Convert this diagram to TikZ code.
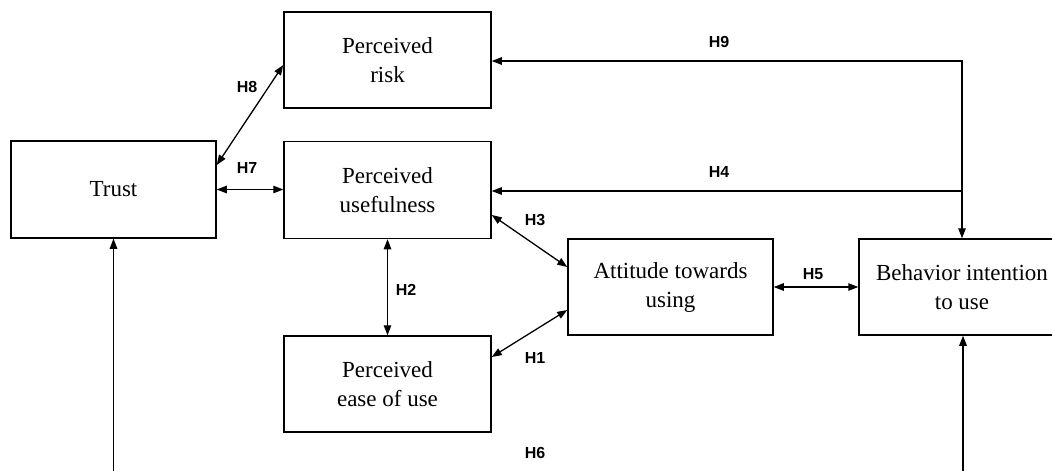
\documentclass[tikz,border=0pt]{standalone}
\usepackage{fontspec}
\setmainfont{Liberation Serif}
\newfontfamily\lblfont{Liberation Sans}
\usetikzlibrary{arrows.meta,calc}
\tikzset{
  box/.style={draw, line width=1.5pt, inner sep=0pt, align=center,
    font=\fontsize{23}{29}\selectfont},
  conn/.style={line width=1.3pt, arrows={Triangle[length=10pt,width=7.5pt]-Triangle[length=10pt,width=7.5pt]}},
  oneway/.style={line width=1.3pt, -{Triangle[length=10pt,width=7.5pt]}},
  hlbl/.style={font=\lblfont\bfseries\fontsize{16}{18}\selectfont, inner sep=0pt}
}
\begin{document}
\begin{tikzpicture}[x=1pt,y=-1pt]
\useasboundingbox (0,0) rectangle (1052,471);
\clip (0,0) rectangle (1052,471);
\fill[white] (0,0) rectangle (1052,471);
% boxes
\node[box, minimum width=205pt, minimum height=97pt] (trust) at (113.5,189.5) {Trust};
\node[box, minimum width=207pt, minimum height=96pt] (risk) at (387.5,60) {Perceived\\risk};
\node[box, minimum width=207pt, minimum height=97pt] (useful) at (387.5,190) {Perceived\\usefulness};
\node[box, minimum width=207pt, minimum height=96pt] (ease) at (387.5,384) {Perceived\\ease of use};
\node[box, minimum width=205pt, minimum height=96pt] (att) at (670.5,287) {Attitude towards\\using};
\node[box, minimum width=206pt, minimum height=96pt] (beh) at (962,287) {Behavior intention\\to use};
% helper coordinates
\coordinate (c9) at (962,61);
\coordinate (c4) at (962,191);
\coordinate (b1) at (113.5,475);
\coordinate (b2) at (963,475);
% connectors
\draw[conn] ($(trust.east)+(0,-24.5)$) -- ($(risk.west)+(0,5)$);
\draw[conn] (trust.east) -- (trust.east -| useful.west);
\draw[conn] (c9 -| risk.east) -- (c9) -- (beh.north);
\draw[oneway] (c4) -- (c4 -| useful.east);
\draw[conn] ($(useful.east)+(0,25)$) -- ($(att.west)+(0,-20)$);
\draw[conn] ($(ease.east)+(0,-27)$) -- ($(att.west)+(0,23)$);
\draw[conn] (useful.south) -- (ease.north);
\draw[conn] (att.east) -- (att.east -| beh.west);
\draw[oneway] (b1) -- (trust.south);
\draw[oneway] (b2) -- (beh.south -| b2);
% labels
\node[hlbl] (h8) at (247,87) {H8};
\node[hlbl] (h7) at (247,168) {H7};
\node[hlbl] (h9) at (719,42) {H9};
\node[hlbl] (h4) at (719,172) {H4};
\node[hlbl] (h3) at (535,220) {H3};
\node[hlbl] (h2) at (406,290) {H2};
\node[hlbl] (h1) at (535,358) {H1};
\node[hlbl] (h5) at (813,274) {H5};
\node[hlbl] (h6) at (535,453) {H6};
\end{tikzpicture}
\end{document}
